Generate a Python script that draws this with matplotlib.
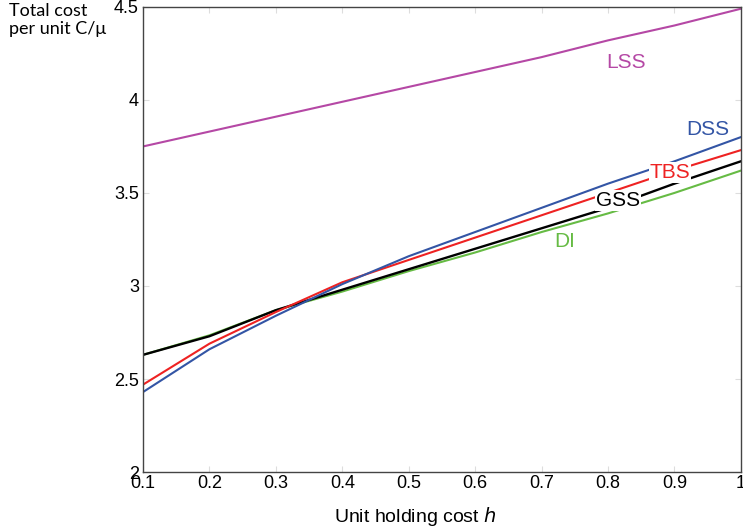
import matplotlib.pyplot as plt

h = [0.1, 0.2, 0.3, 0.4, 0.5, 0.6, 0.7, 0.8, 0.9, 1.0]
lss = [3.75, 3.83, 3.91, 3.99, 4.07, 4.15, 4.23, 4.32, 4.40, 4.49]
dss = [2.43, 2.66, 2.84, 3.01, 3.16, 3.29, 3.42, 3.55, 3.67, 3.80]
tbs = [2.47, 2.69, 2.86, 3.02, 3.14, 3.26, 3.38, 3.50, 3.62, 3.73]
gss = [2.63, 2.73, 2.87, 2.98, 3.09, 3.20, 3.31, 3.42, 3.55, 3.67]
di = [2.63, 2.735, 2.87, 2.97, 3.08, 3.18, 3.29, 3.39, 3.50, 3.62]

plt.rcParams["font.family"] = ["Liberation Sans", "DejaVu Sans"]

fig = plt.figure(figsize=(7.43, 5.31), dpi=100)
ax = fig.add_axes([0.1925, 0.111, 0.8045, 0.876])

ax.plot(h, lss, color="#B548A5", lw=1.5)
ax.plot(h, di, color="#66BB44", lw=1.5)
ax.plot(h, gss, color="black", lw=1.7)
ax.plot(h, tbs, color="#EE2222", lw=1.5)
ax.plot(h, dss, color="#3355A5", lw=1.5)

ax.text(0.827, 4.20, "LSS", color="#B548A5", fontsize=15, ha="center", va="center")
ax.text(0.95, 3.84, "DSS", color="#3355A5", fontsize=15, ha="center", va="center")
ax.text(0.894, 3.61, "TBS", color="#EE2222", fontsize=15, ha="center", va="center",
        bbox=dict(facecolor="white", edgecolor="none", pad=0.5))
ax.text(0.815, 3.46, "GSS", color="black", fontsize=15, ha="center", va="center",
        bbox=dict(facecolor="white", edgecolor="none", pad=0.5))
ax.text(0.735, 3.24, "DI", color="#66BB44", fontsize=15, ha="center", va="center")

ax.set_xlim(0.1, 1.0)
ax.set_ylim(2, 4.5)
ax.set_xticks([0.1, 0.2, 0.3, 0.4, 0.5, 0.6, 0.7, 0.8, 0.9, 1.0])
ax.set_xticklabels(["0.1", "0.2", "0.3", "0.4", "0.5", "0.6", "0.7", "0.8", "0.9", "1"])
ax.set_yticks([2, 2.5, 3, 3.5, 4, 4.5])
ax.set_yticklabels(["2", "2.5", "3", "3.5", "4", "4.5"])
ax.tick_params(direction="in", length=4, color="#dddddd", labelsize=13,
               top=True, right=True, pad=3)
ax.tick_params(axis="x", pad=2)

for s in ax.spines.values():
    s.set_color("#444444")
    s.set_linewidth(1.0)

fig.text(415 / 743, 1 - 517 / 531, "Unit holding cost $h$", fontsize=14,
         ha="center", va="center")
fig.text(9 / 743, 0.995, "Total cost\nper unit C/\u03bc", fontsize=13,
         family=["Lato", "DejaVu Sans"], ha="left", va="top", linespacing=1.15)

fig.savefig("out.png", dpi=100)
